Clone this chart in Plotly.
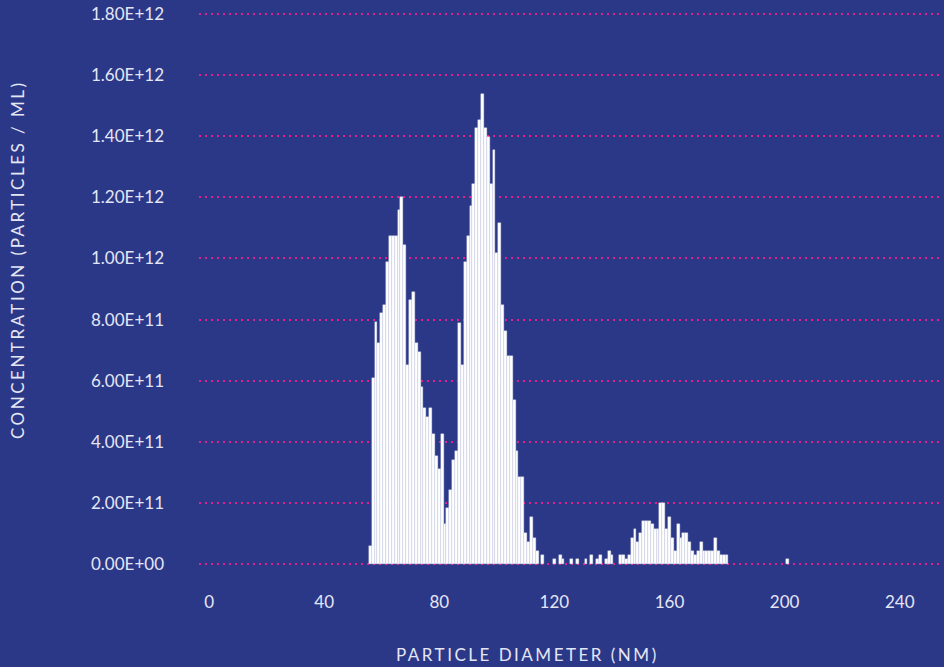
import plotly.graph_objects as go
import numpy as np

# Particle size distribution (1 nm bins); concentration in units of 1E+12 particles/mL
diameter_nm = [56, 57, 58, 59, 60, 61, 62, 63, 64, 65, 66, 67, 68, 69, 70, 71, 72, 73, 74, 75,
               76, 77, 78, 79, 80, 81, 82, 83, 84, 85, 86, 87, 88, 89, 90, 91, 92, 93, 94, 95,
               96, 97, 98, 99, 100, 101, 102, 103, 104, 105, 106, 107, 108, 109, 110, 111, 112, 113, 114, 116,
               120, 122, 123, 126, 128, 131, 133, 135, 136, 138, 139, 140, 143, 144, 145, 146, 147, 148, 149, 150,
               151, 152, 153, 154, 155, 156, 157, 158, 159, 160, 161, 162, 163, 164, 165, 166, 167, 168, 169, 170,
               171, 172, 173, 174, 175, 176, 177, 178, 179, 180, 201]
conc_e12 = [0.060, 0.608, 0.792, 0.722, 0.820, 0.848, 0.990, 1.073, 1.073, 1.073, 1.158, 1.202, 1.044, 0.651, 0.864, 0.890, 0.722, 0.693, 0.580, 0.509,
            0.482, 0.509, 0.424, 0.354, 0.312, 0.424, 0.131, 0.184, 0.242, 0.340, 0.371, 0.790, 0.651, 0.990, 1.073, 1.172, 1.243, 1.426, 1.453, 1.540,
            1.426, 1.398, 1.243, 1.355, 1.017, 1.115, 0.848, 0.763, 0.680, 0.680, 0.537, 0.371, 0.284, 0.284, 0.100, 0.071, 0.155, 0.086, 0.044, 0.030,
            0.015, 0.030, 0.015, 0.015, 0.015, 0.015, 0.030, 0.015, 0.030, 0.015, 0.044, 0.030, 0.030, 0.030, 0.015, 0.030, 0.086, 0.114, 0.071, 0.100,
            0.142, 0.142, 0.142, 0.130, 0.114, 0.114, 0.200, 0.200, 0.114, 0.155, 0.086, 0.044, 0.130, 0.086, 0.100, 0.100, 0.071, 0.044, 0.030, 0.044,
            0.071, 0.044, 0.044, 0.044, 0.044, 0.086, 0.044, 0.030, 0.030, 0.030, 0.015]

x_ticks = [0, 40, 80, 120, 160, 200, 240]
y_ticks_e12 = [0.0, 0.2, 0.4, 0.6, 0.8, 1.0, 1.2, 1.4, 1.6, 1.8]
y_tick_text = ["0.00E+00", "2.00E+11", "4.00E+11", "6.00E+11", "8.00E+11",
               "1.00E+12", "1.20E+12", "1.40E+12", "1.60E+12", "1.80E+12"]

BG = "#2b3888"
GRID = "#e3208c"
TXT = "#e4e6f4"
FONT = "Lato"

conc = np.array(conc_e12) * 1e12
y_ticks = np.array(y_ticks_e12) * 1e12


def spaced(s, px):
    return '<span style="letter-spacing:%spx">%s</span>' % (px, s)


fig = go.Figure()
fig.add_trace(go.Bar(
    x=diameter_nm, y=conc, width=1,
    marker=dict(color="#ffffff", line=dict(color="#d2d5ec", width=0.4)),
    showlegend=False, hoverinfo="skip",
))

fig.update_layout(
    width=944, height=667,
    paper_bgcolor=BG, plot_bgcolor=BG,
    margin=dict(l=199, r=4, t=13, b=100),
    bargap=0,
    font=dict(family=FONT, color=TXT, size=17),
    xaxis=dict(
        range=[-3.5, 254], tickvals=x_ticks, showgrid=False, zeroline=False,
        showline=False, ticks="", ticklabelstandoff=23,
        tickfont=dict(family=FONT, size=17, color=TXT),
    ),
    yaxis=dict(
        range=[-0.01e12, 1.8035e12], tickvals=list(y_ticks), ticktext=y_tick_text,
        showgrid=True, gridcolor=GRID, griddash="2px,4px", gridwidth=2,
        zeroline=False, showline=False, ticks="", ticklabelstandoff=34,
        tickfont=dict(family=FONT, size=17, color=TXT),
        layer="below traces",
    ),
    annotations=[
        dict(text=spaced("CONCENTRATION (PARTICLES / ML)", 2.5), textangle=-90,
             xref="paper", yref="paper", x=(17 - 199) / 741, y=(567 - 260) / 554,
             xanchor="center", yanchor="middle", showarrow=False,
             font=dict(family=FONT, size=17, color=TXT)),
        dict(text=spaced("PARTICLE DIAMETER (NM)", 2.5),
             xref="paper", yref="paper", x=(527 - 199) / 741, y=(567 - 654) / 554,
             xanchor="center", yanchor="middle", showarrow=False,
             font=dict(family=FONT, size=17, color=TXT)),
    ],
)

fig.write_html(
    "out.html",
    config={"displayModeBar": False},
    post_script="document.body.style.margin='0';document.body.style.overflow='hidden';"
                "document.body.style.background='%s';" % BG,
)
